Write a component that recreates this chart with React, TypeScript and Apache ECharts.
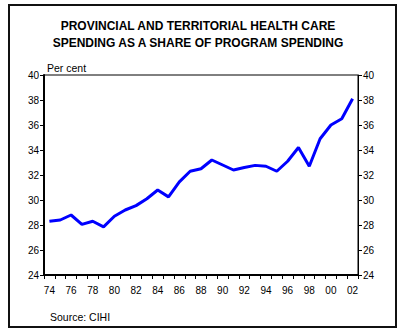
import React, { useEffect, useRef } from "react";
import * as echarts from "echarts";

const years = ["74","75","76","77","78","79","80","81","82","83","84","85","86","87","88","89","90","91","92","93","94","95","96","97","98","99","00","01","02"];
const shareValues = [28.3,28.4,28.8,28.05,28.3,27.85,28.7,29.2,29.55,30.1,30.8,30.25,31.45,32.3,32.5,33.2,32.8,32.4,32.6,32.77,32.7,32.3,33.1,34.2,32.7,34.9,36.0,36.5,38.1];
const titleLines = ["PROVINCIAL AND TERRITORIAL HEALTH CARE", "SPENDING AS A SHARE OF PROGRAM SPENDING"];
const unitLabel = "Per cent";
const sourceLabel = "Source: CIHI";

const FONT = "'Liberation Sans', Arial, sans-serif";

export default function App() {
  const ref = useRef<HTMLDivElement>(null);
  useEffect(() => {
    if (!ref.current) return;
    const chart = echarts.init(ref.current, null, { renderer: "svg" });
    const yAxisBase = {
      type: "value" as const,
      min: 24,
      max: 40,
      interval: 2,
      splitLine: { show: false },
      axisTick: { show: true, inside: false, length: 4, lineStyle: { color: "#000", width: 1 } },
      axisLabel: { color: "#000", fontSize: 10, fontFamily: FONT, margin: 5 },
    };
    chart.setOption({
      animation: false,
      backgroundColor: "#fff",
      textStyle: { fontFamily: FONT },
      grid: { left: 44, top: 75, right: 47, bottom: 61, show: true, borderColor: "#000", borderWidth: 1, backgroundColor: "transparent" },
      xAxis: {
        type: "category",
        data: years,
        boundaryGap: true,
        axisLine: { show: true, lineStyle: { color: "#000", width: 2 } },
        axisTick: { show: true, interval: 0, alignWithLabel: false, length: 4, lineStyle: { color: "#000", width: 1 } },
        axisLabel: { interval: 1, color: "#000", fontSize: 10, fontFamily: FONT, margin: 10 },
        splitLine: { show: false },
      },
      yAxis: [
        { ...yAxisBase, position: "left", axisLine: { show: true, lineStyle: { color: "#000", width: 2 } } },
        { ...yAxisBase, position: "right", axisLine: { show: true, lineStyle: { color: "#000", width: 1 } } },
      ],
      series: [
        {
          type: "line",
          data: shareValues,
          yAxisIndex: 0,
          symbol: "none",
          lineStyle: { color: "#0000FF", width: 3 },
          z: 5,
        },
      ],
      graphic: [
        {
          type: "rect",
          shape: { x: 9, y: 5, width: 387, height: 322 },
          style: { fill: "none", stroke: "#111", lineWidth: 2 },
          silent: true,
        },
        {
          type: "text",
          x: 198,
          y: 17,
          style: { text: titleLines.join("\n"), fill: "#000", font: `bold 12px ${FONT}`, textAlign: "center", lineHeight: 17 },
        },
        {
          type: "text",
          x: 47,
          y: 62,
          style: { text: unitLabel, fill: "#000", font: `10.5px ${FONT}` },
        },
        {
          type: "text",
          x: 50,
          y: 311,
          style: { text: sourceLabel, fill: "#000", font: `10.5px ${FONT}` },
        },
      ],
    });
    return () => chart.dispose();
  }, []);
  return <div ref={ref} style={{ position: "fixed", left: 0, top: 0, width: 405, height: 336 }} />;
}
